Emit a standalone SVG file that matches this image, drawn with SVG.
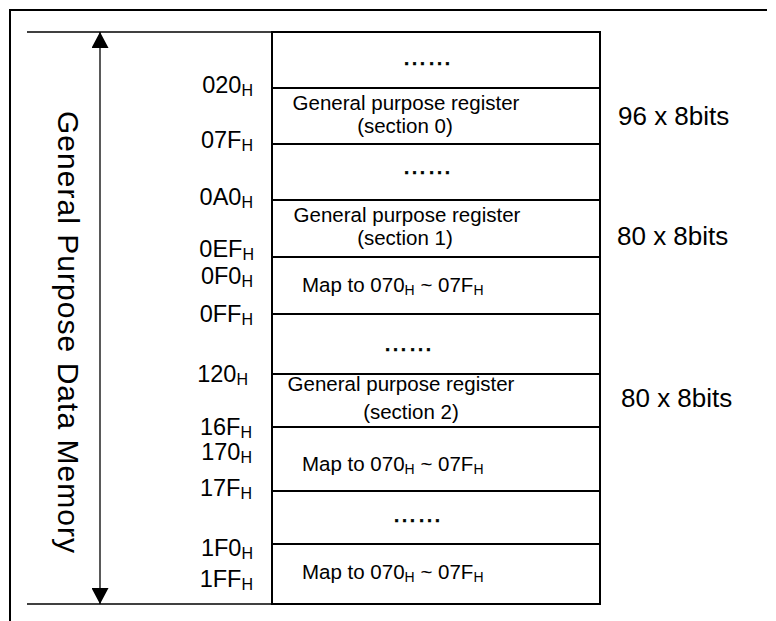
<svg xmlns="http://www.w3.org/2000/svg" width="776" height="621" viewBox="0 0 776 621">
  <style>
    .frame{stroke:#000;stroke-width:2;fill:none}
    .grid{stroke:#000;stroke-width:2;fill:none}
    .thin{stroke:#000;stroke-width:1.3;fill:none}
    text{font-family:"Liberation Sans",Arial,sans-serif;fill:#000}
    .addr{font-size:23.5px;text-anchor:end}
    .sub{font-size:16px}
    .cell{font-size:20.5px;text-anchor:middle}
    .map{font-size:20.5px}
    .msub{font-size:14px}
    .dots{font-size:25px;text-anchor:middle;stroke:#000;stroke-width:0.6}
    .size{font-size:26px}
    .title{font-size:30px}
  </style>
  <defs>
    <marker id="head" viewBox="0 0 16 17" refX="16" refY="8.5" markerWidth="16" markerHeight="17" markerUnits="userSpaceOnUse" orient="auto">
      <path d="M0,0 L16,8.5 L0,17 Z" fill="#000"/>
    </marker>
  </defs>
  <rect width="776" height="621" fill="#fff"/>

  <!-- outer frame -->
  <path class="frame" d="M10,621 V10 H767"/>

  <!-- span markers and extent arrow -->
  <g id="connectors">
    <line class="thin" x1="27" y1="32" x2="272" y2="32"/>
    <line class="thin" x1="27" y1="604" x2="272" y2="604"/>
    <line class="thin" x1="100" y1="318" x2="100" y2="32" marker-end="url(#head)"/>
    <line class="thin" x1="100" y1="318" x2="100" y2="604" marker-end="url(#head)"/>
  </g>

  <g id="title">
    <text class="title" transform="translate(58,111) rotate(90)" textLength="442">General Purpose Data Memory</text>
  </g>

  <!-- address labels -->
  <g id="addresses" class="addr">
    <text x="253" y="93">020<tspan class="sub" dy="3">H</tspan></text>
    <text x="253" y="148">07F<tspan class="sub" dy="3">H</tspan></text>
    <text x="253" y="205">0A0<tspan class="sub" dy="3">H</tspan></text>
    <text x="254" y="257">0EF<tspan class="sub" dy="3">H</tspan></text>
    <text x="253" y="284">0F0<tspan class="sub" dy="3">H</tspan></text>
    <text x="253" y="322">0FF<tspan class="sub" dy="3">H</tspan></text>
    <text x="248" y="382">120<tspan class="sub" dy="3">H</tspan></text>
    <text x="252" y="435">16F<tspan class="sub" dy="3">H</tspan></text>
    <text x="252" y="460">170<tspan class="sub" dy="3">H</tspan></text>
    <text x="252" y="496">17F<tspan class="sub" dy="3">H</tspan></text>
    <text x="253" y="556">1F0<tspan class="sub" dy="3">H</tspan></text>
    <text x="253" y="587">1FF<tspan class="sub" dy="3">H</tspan></text>
  </g>

  <!-- memory map table -->
  <g id="table">
    <rect class="grid" x="272" y="32" width="328" height="572"/>
    <path class="grid" d="M272,88 H600 M272,144 H600 M272,200 H600 M272,257 H600 M272,314 H600 M272,374 H600 M272,427 H600 M272,491 H600 M272,544 H600"/>
  </g>

  <g id="row-gap-0"><text class="dots" x="427" y="65">……</text></g>
  <g id="row-section-0">
    <text class="cell" x="406" y="110">General purpose register</text>
    <text class="cell" x="405" y="133">(section 0)</text>
  </g>
  <g id="row-gap-1"><text class="dots" x="427" y="174">……</text></g>
  <g id="row-section-1">
    <text class="cell" x="407" y="222">General purpose register</text>
    <text class="cell" x="405" y="245">(section 1)</text>
  </g>
  <g id="row-map-1"><text class="map" x="302" y="292">Map to 070<tspan class="msub" dy="3">H</tspan><tspan dy="-3"> ~ 07F</tspan><tspan class="msub" dy="3">H</tspan></text></g>
  <g id="row-gap-2"><text class="dots" x="408" y="351">……</text></g>
  <g id="row-section-2">
    <text class="cell" x="401" y="391">General purpose register</text>
    <text class="cell" x="411" y="419">(section 2)</text>
  </g>
  <g id="row-map-2"><text class="map" x="302" y="471">Map to 070<tspan class="msub" dy="3">H</tspan><tspan dy="-3"> ~ 07F</tspan><tspan class="msub" dy="3">H</tspan></text></g>
  <g id="row-gap-3"><text class="dots" x="417" y="522">……</text></g>
  <g id="row-map-3"><text class="map" x="302" y="579">Map to 070<tspan class="msub" dy="3">H</tspan><tspan dy="-3"> ~ 07F</tspan><tspan class="msub" dy="3">H</tspan></text></g>

  <!-- block sizes -->
  <g id="sizes" class="size">
    <text x="618" y="125">96 x 8bits</text>
    <text x="617" y="245">80 x 8bits</text>
    <text x="621" y="407">80 x 8bits</text>
  </g>
</svg>
